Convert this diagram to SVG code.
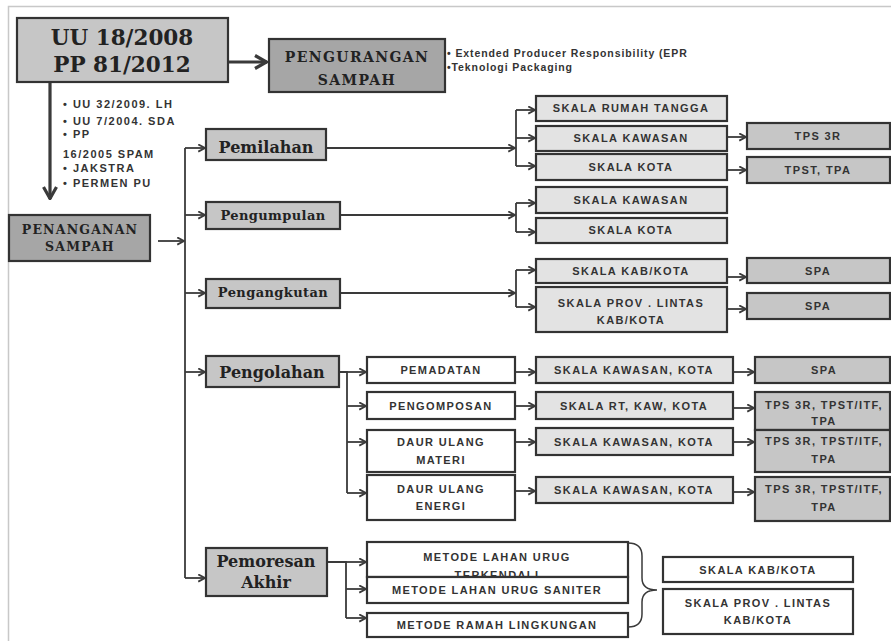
<svg xmlns="http://www.w3.org/2000/svg" width="891" height="641" viewBox="0 0 891 641">
<defs>
<marker id="ah" viewBox="0 0 10 10" refX="9" refY="5" markerWidth="9" markerHeight="9" orient="auto" markerUnits="userSpaceOnUse">
<path d="M1.5,1 L9,5 L1.5,9" fill="none" stroke="#3a3a3a" stroke-width="2"/>
</marker>
<marker id="ahb" viewBox="0 0 16 16" refX="15" refY="8" markerWidth="16" markerHeight="16" orient="auto" markerUnits="userSpaceOnUse">
<path d="M3,1.5 L14.5,8 L3,14.5" fill="none" stroke="#3a3a3a" stroke-width="3.2"/>
</marker>
<style>
rect{stroke:#333;stroke-width:2.2}
.g1{fill:#c6c6c6}
.g2{fill:#a6a6a6}
.gl{fill:#e3e3e3}
.gw{fill:#ffffff}
.t{font-family:"Liberation Sans",Arial,sans-serif;font-weight:bold;font-size:11px;letter-spacing:1.4px;fill:#333;text-anchor:middle}
.s{font-family:"DejaVu Serif","Liberation Serif",serif;font-weight:bold;fill:#222;text-anchor:middle}
.bl{font-family:"Liberation Sans",Arial,sans-serif;font-weight:bold;font-size:11px;letter-spacing:1.5px;fill:#333}
.ep{font-family:"Liberation Sans",Arial,sans-serif;font-weight:bold;font-size:10.5px;letter-spacing:0.9px;fill:#333}
.c{fill:none;stroke:#3a3a3a;stroke-width:1.8}
.a{fill:none;stroke:#3a3a3a;stroke-width:1.8;marker-end:url(#ah)}
.ab{fill:none;stroke:#3a3a3a;stroke-width:3.2;marker-end:url(#ahb)}
</style>
</defs>
<rect width="891" height="641" fill="#fff" style="stroke:none"/>
<path d="M8.5,641 V6.5 H891" fill="none" stroke="#c8c8c8" stroke-width="1.5"/>

<g id="connectors">
<path class="ab" d="M228,62 H267"/>
<path class="ab" d="M50,82 V199"/>
<path class="a" d="M158,241 H184"/>
<path class="c" d="M185,148 V578"/>
<path class="a" d="M185,148 H205"/>
<path class="a" d="M185,215 H205"/>
<path class="a" d="M185,293 H205"/>
<path class="a" d="M185,372 H205"/>
<path class="a" d="M185,578 H205"/>
<path class="a" d="M326,148 H515"/>
<path class="c" d="M516,110 V166"/>
<path class="a" d="M516,110 H535"/>
<path class="a" d="M516,138 H535"/>
<path class="a" d="M516,166 H535"/>
<path class="a" d="M727,137 H746"/>
<path class="a" d="M727,170 H746"/>
<path class="a" d="M340,215 H515"/>
<path class="c" d="M516,203 V232"/>
<path class="a" d="M516,203 H535"/>
<path class="a" d="M516,232 H535"/>
<path class="a" d="M340,293 H515"/>
<path class="c" d="M516,270 V307"/>
<path class="a" d="M516,270 H535"/>
<path class="a" d="M516,307 H535"/>
<path class="a" d="M727,277 H746"/>
<path class="a" d="M727,309 H746"/>
<path class="c" d="M339,372 H347 V493"/>
<path class="a" d="M347,372 H366"/>
<path class="a" d="M347,406 H366"/>
<path class="a" d="M347,442 H366"/>
<path class="a" d="M347,493 H366"/>
<path class="a" d="M515,372 H535"/>
<path class="a" d="M515,406 H535"/>
<path class="a" d="M515,442 H535"/>
<path class="a" d="M515,491 H535"/>
<path class="a" d="M733,372 H754"/>
<path class="a" d="M733,408 H754"/>
<path class="a" d="M733,442 H754"/>
<path class="a" d="M733,492 H754"/>
<path class="c" d="M327,562 H346 V618"/>
<path class="a" d="M346,562 H366"/>
<path class="a" d="M346,589 H366"/>
<path class="a" d="M346,618 H366"/>
<path fill="none" stroke="#3a3a3a" stroke-width="1.5" d="M628,543 Q642,543 642,556 V578 Q642,590 657,590 Q642,590 642,602 V614 Q642,627 628,627"/>
</g>

<g id="uu">
<rect class="g1" x="17" y="18" width="211" height="64"/>
<text class="s" x="122" y="45" font-size="21.5">UU 18/2008</text>
<text class="s" x="122" y="72" font-size="21.5">PP 81/2012</text>
</g>

<g id="pengurangan">
<rect class="g2" x="269" y="39" width="176" height="53"/>
<text class="s" x="357" y="62" font-size="14" letter-spacing="1.4">PENGURANGAN</text>
<text class="s" x="357" y="85" font-size="14" letter-spacing="1.4">SAMPAH</text>
</g>

<g id="epr">
<text class="ep" x="447" y="57">• Extended Producer Responsibility (EPR</text>
<text class="ep" x="447" y="71">•Teknologi Packaging</text>
</g>

<g id="regulasi">
<text class="bl" x="63" y="108">• UU 32/2009. LH</text>
<text class="bl" x="63" y="125">• UU 7/2004. SDA</text>
<text class="bl" x="63" y="138">• PP</text>
<text class="bl" x="63" y="158">16/2005 SPAM</text>
<text class="bl" x="63" y="172">• JAKSTRA</text>
<text class="bl" x="63" y="187">• PERMEN PU</text>
</g>

<g id="penanganan">
<rect class="g2" x="9" y="215" width="141" height="46"/>
<text class="s" x="80" y="234" font-size="12.5" letter-spacing="1.2">PENANGANAN</text>
<text class="s" x="80" y="251" font-size="12.5" letter-spacing="1.2">SAMPAH</text>
</g>

<g id="pemilahan">
<rect class="g1" x="206" y="129" width="120" height="31"/>
<text class="s" x="266" y="153" font-size="16">Pemilahan</text>
</g>
<g id="pengumpulan">
<rect class="g1" x="206" y="202" width="134" height="27"/>
<text class="s" x="273" y="220" font-size="13" letter-spacing="0.4">Pengumpulan</text>
</g>
<g id="pengangkutan">
<rect class="g1" x="206" y="279" width="134" height="29"/>
<text class="s" x="273" y="297" font-size="13" letter-spacing="0.4">Pengangkutan</text>
</g>
<g id="pengolahan">
<rect class="g1" x="206" y="356" width="133" height="31"/>
<text class="s" x="272" y="378" font-size="16">Pengolahan</text>
</g>
<g id="pemoresan">
<rect class="g1" x="206" y="548" width="121" height="48"/>
<text class="s" x="266" y="567" font-size="16">Pemoresan</text>
<text class="s" x="266" y="588" font-size="16">Akhir</text>
</g>

<g id="skala-rt">
<rect class="gl" x="536" y="96" width="191" height="25"/>
<text class="t" x="631" y="112">SKALA RUMAH TANGGA</text>
</g>
<g id="skala-kawasan-1">
<rect class="gl" x="536" y="126" width="191" height="25"/>
<text class="t" x="631" y="142">SKALA KAWASAN</text>
</g>
<g id="skala-kota-1">
<rect class="gl" x="536" y="154" width="191" height="26"/>
<text class="t" x="631" y="171">SKALA KOTA</text>
</g>
<g id="tps3r-1">
<rect class="g1" x="747" y="123" width="143" height="26"/>
<text class="t" x="818" y="140">TPS 3R</text>
</g>
<g id="tpst-1">
<rect class="g1" x="747" y="157" width="143" height="26"/>
<text class="t" x="818" y="174">TPST, TPA</text>
</g>

<g id="skala-kawasan-2">
<rect class="gl" x="536" y="187" width="191" height="26"/>
<text class="t" x="631" y="204">SKALA KAWASAN</text>
</g>
<g id="skala-kota-2">
<rect class="gl" x="536" y="218" width="191" height="25"/>
<text class="t" x="631" y="234">SKALA KOTA</text>
</g>

<g id="skala-kab-1">
<rect class="gl" x="536" y="259" width="191" height="24"/>
<text class="t" x="631" y="275">SKALA KAB/KOTA</text>
</g>
<g id="skala-prov-1">
<rect class="gl" x="536" y="287" width="191" height="45"/>
<text class="t" x="631" y="307">SKALA PROV . LINTAS</text>
<text class="t" x="631" y="324">KAB/KOTA</text>
</g>
<g id="spa-1">
<rect class="g1" x="747" y="258" width="143" height="25"/>
<text class="t" x="818" y="275">SPA</text>
</g>
<g id="spa-2">
<rect class="g1" x="747" y="293" width="143" height="26"/>
<text class="t" x="818" y="310">SPA</text>
</g>

<g id="pemadatan">
<rect class="gw" x="367" y="357" width="148" height="26"/>
<text class="t" x="441" y="374">PEMADATAN</text>
</g>
<g id="pengomposan">
<rect class="gw" x="367" y="392" width="148" height="27"/>
<text class="t" x="441" y="410">PENGOMPOSAN</text>
</g>
<g id="daur-materi">
<rect class="gw" x="367" y="430" width="148" height="42"/>
<text class="t" x="441" y="446">DAUR ULANG</text>
<text class="t" x="441" y="464">MATERI</text>
</g>
<g id="daur-energi">
<rect class="gw" x="367" y="475" width="148" height="45"/>
<text class="t" x="441" y="493">DAUR ULANG</text>
<text class="t" x="441" y="510">ENERGI</text>
</g>

<g id="skala-kk-1">
<rect class="gl" x="536" y="357" width="197" height="26"/>
<text class="t" x="634" y="374">SKALA KAWASAN, KOTA</text>
</g>
<g id="skala-rt-kaw">
<rect class="gl" x="536" y="392" width="197" height="27"/>
<text class="t" x="634" y="410">SKALA RT, KAW, KOTA</text>
</g>
<g id="skala-kk-2">
<rect class="gl" x="536" y="428" width="197" height="27"/>
<text class="t" x="634" y="446">SKALA KAWASAN, KOTA</text>
</g>
<g id="skala-kk-3">
<rect class="gl" x="536" y="477" width="197" height="26"/>
<text class="t" x="634" y="494">SKALA KAWASAN, KOTA</text>
</g>

<g id="spa-3">
<rect class="g1" x="755" y="357" width="135" height="26"/>
<text class="t" x="824" y="374">SPA</text>
</g>
<g id="tps-a">
<rect class="g1" x="755" y="392" width="135" height="38"/>
<text class="t" x="824" y="409">TPS 3R, TPST/ITF,</text>
<text class="t" x="824" y="425">TPA</text>
</g>
<g id="tps-b">
<rect class="g1" x="755" y="430" width="135" height="42"/>
<text class="t" x="824" y="445">TPS 3R, TPST/ITF,</text>
<text class="t" x="824" y="463">TPA</text>
</g>
<g id="tps-c">
<rect class="g1" x="755" y="477" width="135" height="44"/>
<text class="t" x="824" y="493">TPS 3R, TPST/ITF,</text>
<text class="t" x="824" y="511">TPA</text>
</g>

<g id="metode-terkendali">
<rect class="gw" x="367" y="542" width="261" height="35"/>
<text class="t" x="497" y="561">METODE LAHAN URUG</text>
<text class="t" x="497" y="579">TERKENDALI</text>
</g>
<g id="metode-saniter">
<rect class="gw" x="367" y="577" width="261" height="26"/>
<text class="t" x="497" y="594">METODE LAHAN URUG SANITER</text>
</g>
<g id="metode-ramah">
<rect class="gw" x="367" y="613" width="261" height="24"/>
<text class="t" x="497" y="629">METODE RAMAH LINGKUNGAN</text>
</g>

<g id="skala-kab-2">
<rect class="gw" x="663" y="557" width="190" height="25"/>
<text class="t" x="758" y="574">SKALA KAB/KOTA</text>
</g>
<g id="skala-prov-2">
<rect class="gw" x="663" y="589" width="190" height="45"/>
<text class="t" x="758" y="607">SKALA PROV . LINTAS</text>
<text class="t" x="758" y="624">KAB/KOTA</text>
</g>
</svg>
